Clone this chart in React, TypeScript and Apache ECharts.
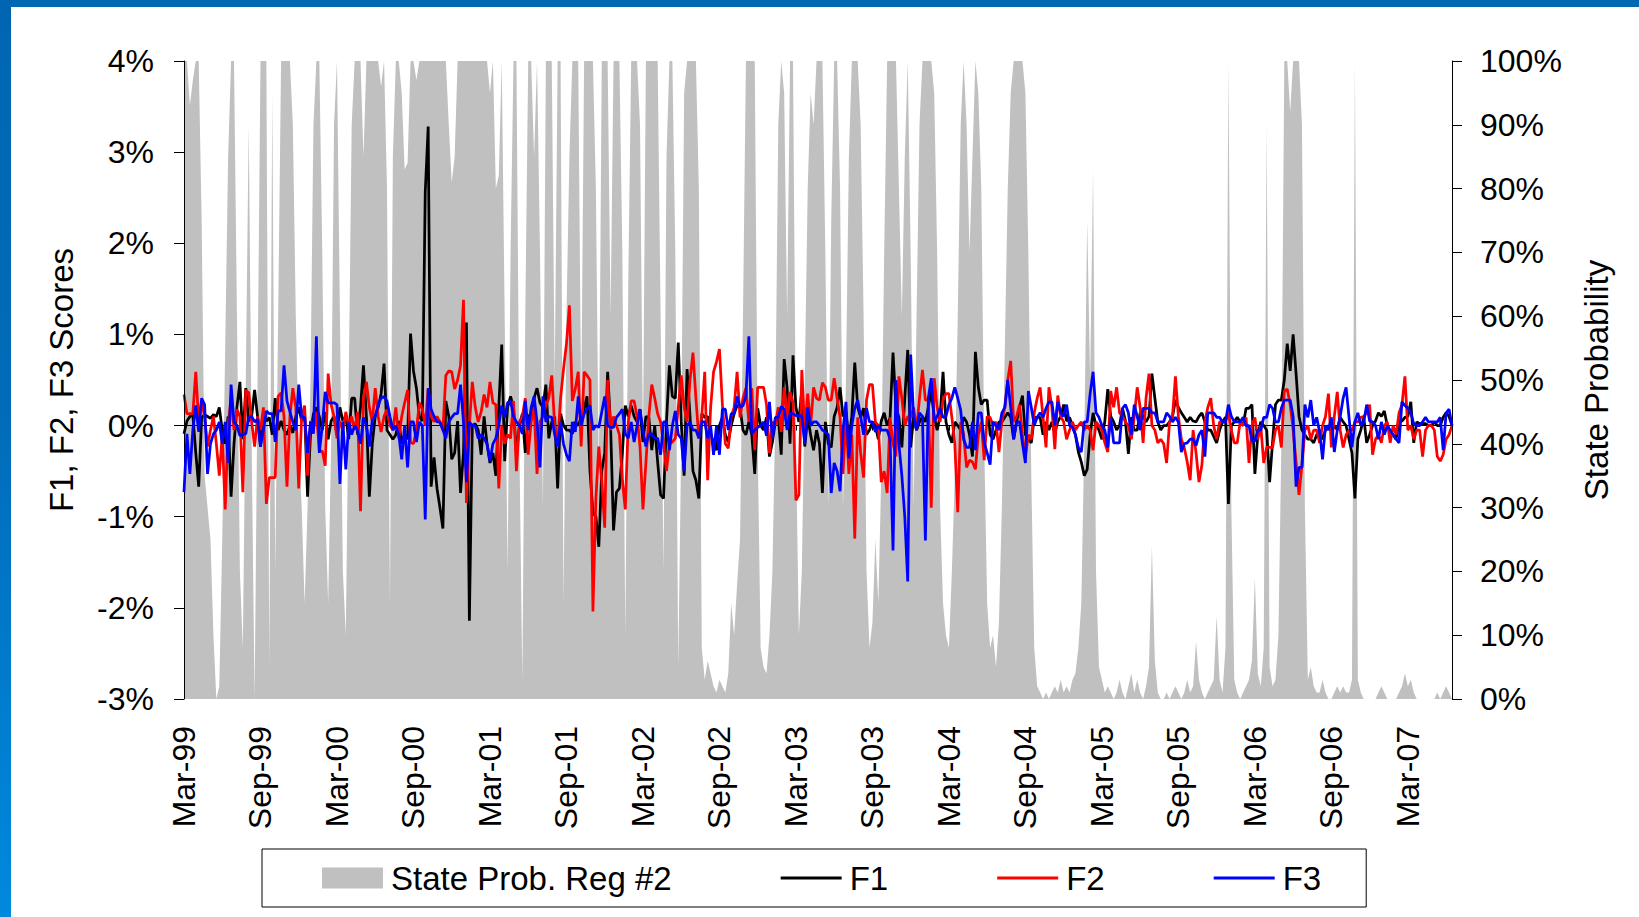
import React, { useEffect, useRef } from "react";
import * as echarts from "echarts";

const FONT = "'Liberation Sans', Arial, Helvetica, sans-serif";

// Weekly observations, first week 19 Mar 1999, 432 weeks
const MONTHS = ["Jan", "Feb", "Mar", "Apr", "May", "Jun", "Jul", "Aug", "Sep", "Oct", "Nov", "Dec"];
const START_UTC = Date.UTC(1999, 2, 19);
const N_WEEKS = 432;
const weekLabels: string[] = [];
for (let i = 0; i < N_WEEKS; i++) {
  const d = new Date(START_UTC + i * 7 * 86400000);
  weekLabels.push(MONTHS[d.getUTCMonth()] + "-" + String(d.getUTCFullYear() % 100).padStart(2, "0"));
}

// State probability of regime #2 (%), right axis
const STATE_PROB = [
  100,100,93,97,100,100,75,35,30,25,10,0,
  2,25,55,85,100,100,60,20,8,50,90,40,
  0,50,100,100,100,5,95,20,60,100,100,100,
  100,90,60,40,30,15,30,50,90,100,100,70,
  30,15,40,90,100,60,20,10,50,90,100,100,
  100,85,100,100,100,100,100,96,100,80,15,85,
  100,100,95,83,84,100,100,97,100,100,100,100,
  100,100,100,100,100,100,90,81,85,100,100,100,
  100,100,100,100,100,100,100,100,95,100,80,82,
  100,60,20,70,100,100,40,3,60,100,100,85,
  100,70,30,100,100,100,50,100,100,15,60,85,
  100,100,100,45,100,100,100,100,80,35,100,100,
  100,60,100,100,100,70,10,65,100,100,100,90,
  40,100,100,100,100,100,60,20,85,100,100,70,
  5,40,95,100,100,100,100,80,8,3,6,4,
  2,1,3,2,1,4,15,10,18,25,60,100,
  100,100,100,40,8,5,4,10,20,45,90,100,
  95,60,100,100,40,10,20,50,80,95,90,100,
  100,100,70,30,75,100,100,80,30,50,85,100,
  100,100,90,60,20,8,12,25,15,35,70,100,
  100,100,100,80,60,85,100,70,30,60,90,100,
  100,100,100,95,70,30,15,10,8,20,35,60,
  90,100,90,70,85,100,95,80,40,15,8,10,
  5,12,30,55,80,95,100,100,100,100,95,70,
  35,8,2,1,0,1,0,1,2,1,3,1,
  2,1,3,4,8,15,40,75,50,83,20,5,
  3,1,2,1,0,1,3,1,0,2,4,1,
  3,1,0,2,5,24,6,1,0,0,1,0,
  1,2,1,0,1,3,1,2,9,3,1,0,
  1,2,3,13,3,1,8,100,30,3,1,0,
  1,2,3,6,19,4,2,8,90,5,2,3,
  10,40,100,100,92,100,100,100,90,30,3,5,
  2,1,1,3,1,0,0,1,2,1,2,1,
  1,3,100,3,1,0,0,0,0,0,1,2,
  1,0,0,0,0,1,2,4,2,3,1,0,
  0,0,0,0,0,0,1,0,1,2,1,0,
];

// Factor scores (%), left axis
const F1 = [
  -0.09,0.05,0.1,0.12,-0.3,-0.67,0.09,0.12,0.1,0.08,0.12,0.1,
  0.2,-0.05,-0.2,0.1,-0.78,-0.2,0.2,0.48,-0.15,0.41,0.05,0.1,
  0.39,0.1,-0.23,0.15,0.05,0.09,-0.1,0.3,-0.05,0.05,-0.05,-0.1,
  0,-0.08,0.1,0.2,0.05,0.15,-0.78,-0.1,0.13,0.2,0.1,-0.05,
  0.15,-0.15,0.05,0.1,-0.1,0.2,0.05,0.1,-0.15,0.3,0.3,-0.1,
  0.2,0.66,0.1,-0.78,-0.2,0.1,0.2,0.35,0.68,-0.05,-0.1,-0.15,
  -0.1,0.05,-0.2,-0.1,-0.15,1.01,0.6,0.41,0.1,0.05,2.56,3.28,
  -0.67,-0.35,-0.69,-0.9,-1.13,0.27,0.1,-0.37,-0.3,0.05,-0.74,-0.3,
  1.13,-2.14,0,0.02,-0.05,-0.32,0.1,-0.2,-0.41,-0.3,-0.55,0.2,
  0.89,-0.39,0.2,0.32,0.2,-0.32,0,0.13,-0.3,0.1,0.13,0.3,
  0.41,0.25,0.2,0.45,-0.14,0.04,0.1,-0.69,0.13,0,-0.05,-0.05,
  -0.09,0.04,0,0.09,0.18,0.32,-0.5,-0.96,-1.0,-1.33,-0.5,-0.3,
  0.59,0,-1.15,-0.73,-0.69,-0.3,0.22,0.1,0.22,0.1,0.04,0.18,
  -0.18,0.1,0.09,-0.27,0,-0.4,-0.76,-0.8,0.04,0.66,0.32,0.3,
  0.91,0.04,-0.55,0.62,0.1,-0.5,-0.6,-0.8,0.13,0.09,0.1,-0.1,
  -0.18,-0.27,0,0.09,-0.1,-0.18,0,0.13,0.22,0.2,-0.05,-0.1,
  0.04,-0.1,-0.53,0.19,0,-0.05,0.09,-0.34,-0.18,0.04,0.1,-0.32,
  0.73,0.41,-0.2,0.77,0.2,0.04,0.4,-0.23,0.09,-0.1,-0.27,-0.05,
  -0.2,-0.74,0.04,-0.2,-0.24,0.1,0.2,0.42,0.1,0.14,-0.15,0.1,
  0.69,0.2,0.09,0.19,-0.1,-0.05,0.04,0,-0.15,0.05,0.14,0,
  0.09,0.8,0.2,0.09,-0.24,0.3,0.83,-0.24,0.1,-0.05,0.04,0.1,
  0.04,0.2,0.38,0.1,-0.05,0.1,0.59,0.04,-0.1,-0.19,0.04,0,
  -0.05,0.09,0.04,-0.1,-0.34,0.81,0.42,0.23,0.28,0.28,-0.1,-0.15,
  -0.05,0.04,0.04,0.09,0.14,0.09,-0.15,0.04,0.2,0.33,-0.1,-0.15,
  -0.19,0.09,0.09,0.09,-0.1,0.04,-0.05,0.04,-0.08,0.04,0.1,0.23,
  0.05,0.09,0,-0.1,-0.29,-0.4,-0.55,-0.48,-0.1,0.14,0,-0.05,
  -0.15,0.05,0.4,0.1,0.04,-0.05,0,0.19,0.05,-0.31,0.09,-0.05,
  -0.05,0.14,0.1,0.04,0.1,0.57,0.3,0.04,-0.05,0,0,0.04,
  0.1,0.28,0.2,0.14,0.09,0.04,0.09,0.05,0.04,0.1,0.14,0.04,
  -0.05,-0.05,-0.12,-0.19,-0.05,0.04,0.09,-0.86,0,0.04,0.09,0.04,
  0,0.19,0.19,0.23,-0.53,-0.1,0.04,0,-0.05,-0.62,-0.19,0.23,
  0.28,0.28,0.5,0.9,0.6,1.0,0.57,0.1,-0.05,-0.1,-0.15,-0.15,
  -0.19,-0.1,-0.05,-0.15,-0.05,0,-0.05,0,-0.05,0.09,0.04,0,
  -0.15,-0.3,-0.8,-0.15,-0.05,0.09,-0.19,-0.1,0,0.05,0.14,0.1,
  0.16,0,-0.08,-0.1,-0.15,0.04,0.05,0.09,0.1,0.26,-0.19,0.04,
  0.02,0.02,0.02,0,0,0.04,0,0,0.09,0.14,0.1,0,
];

const F2 = [
  0.34,0.13,0.13,0.13,0.59,0.04,0.27,0.1,-0.23,-0.05,0.1,-0.2,
  -0.55,-0.1,-0.92,0,0.3,-0.05,0.18,0.1,-0.73,0.39,0.36,0.04,
  -0.23,0.1,-0.05,0.2,-0.86,-0.57,-0.57,-0.57,0.32,0.36,0.1,-0.67,
  0.1,0.41,0.2,-0.69,0.1,0.22,-0.55,0.05,-0.05,0.15,-0.28,-0.28,
  -0.44,0.57,0.23,0.1,-0.14,0.05,-0.05,0.15,0,0.1,-0.05,0.15,
  -0.94,0.3,0.48,0.2,0.04,0.41,0.1,-0.07,0.1,0.18,0,-0.05,
  0.2,-0.14,0.1,0.25,0.39,-0.18,-0.2,-0.05,0.25,0.18,0,0.41,
  0.1,0.04,0.1,0.04,-0.05,0.55,0.6,0.59,0.4,0.5,0.66,1.38,
  -0.85,0,0.48,0.2,0.04,0.15,0.34,0.2,0.48,0.25,0.23,-0.69,
  0,-0.2,-0.1,-0.14,0.27,-0.5,0.04,0.1,0.3,-0.32,0.04,0.2,
  -0.53,0.04,0.1,0.22,0.3,0.55,0,-0.2,0.3,0.62,0.9,1.32,
  0.27,0.4,0.59,-0.23,0.59,0.55,0.5,-2.04,-0.8,-0.23,-0.6,-1.12,
  0.5,-0.05,0.1,0,-0.1,-0.6,-0.92,0.04,0.27,0.27,0.1,-0.23,
  -0.92,-0.41,0.1,0.45,0.3,0.13,0.04,-0.2,-0.5,-0.2,-0.18,-0.14,
  0.2,0.55,0.2,0.04,0.5,0.8,0.3,-0.14,0.1,0.59,-0.6,0.2,
  0.59,0.7,0.84,0.23,-0.2,-0.25,0.1,0.2,0.59,0.09,0.3,0.41,
  0.04,0.41,-0.27,0.42,0.42,0.42,0.23,-0.3,0.04,0,0.2,-0.07,
  0.42,0.09,0.37,0.25,-0.82,-0.76,0.61,-0.05,0.35,0,0.42,0.3,
  0.28,0.47,0.42,0.28,0.28,0.52,0.3,0.09,-0.53,0.09,-0.53,-0.1,
  -1.24,0.09,-0.3,-0.57,0.28,0.45,0.45,0.04,0,-0.62,-0.5,-0.74,
  0.09,-0.2,-0.34,0.54,0.3,0,0.1,0.09,0.2,-0.05,0.3,0.61,
  0.28,0.28,-0.9,0.52,0.2,0.04,0.28,0.35,0.35,0.09,-0.2,-0.95,
  0.04,-0.1,-0.46,-0.38,-0.4,-0.48,-0.1,0.04,-0.38,0.1,0.09,0,
  0.04,-0.29,0.04,0.2,0.5,0.71,0.04,0.1,0.23,-0.1,-0.34,-0.1,
  -0.15,0.14,0.3,0.42,0.09,-0.24,0.42,0.2,-0.26,0.33,0.1,0.04,
  -0.15,-0.05,0.04,-0.05,0,0.04,-0.05,0,-0.05,-0.27,0.04,0,
  -0.05,-0.19,-0.29,0.38,0.2,0.42,0.14,0.1,0.04,0,-0.15,0.09,
  0.42,0.2,-0.19,0.3,0.57,0,-0.05,-0.19,-0.15,-0.2,-0.41,0.04,
  0.1,0.54,0.1,-0.15,-0.24,-0.4,-0.6,-0.05,-0.3,-0.62,-0.43,0.04,
  0.2,0.3,0,-0.15,0.04,0.04,0.04,0.14,-0.05,-0.19,-0.19,0.04,
  0,0.09,-0.41,0,0.09,-0.15,0,-0.41,-0.24,-0.24,-0.24,-0.05,
  0,-0.24,0.38,0.4,0.23,-0.05,-0.4,-0.76,-0.43,-0.05,0,-0.15,
  -0.05,-0.05,-0.19,0,0.1,0.35,-0.24,0.1,0.37,-0.05,-0.24,-0.1,
  -0.05,-0.05,0.04,0.04,0.09,0.1,0.14,0.23,-0.32,-0.15,-0.1,-0.19,
  0,0.04,-0.19,0,-0.1,0.14,0.23,0.54,-0.05,0,-0.15,-0.05,
  -0.05,-0.34,-0.05,0,0,-0.05,-0.34,-0.39,-0.32,-0.15,-0.1,0,
];

const F3 = [
  -0.73,-0.09,-0.53,-0.05,0.22,-0.07,0.3,0.23,-0.53,-0.2,-0.09,-0.05,
  0.04,-0.2,0.04,-0.41,0.45,0.04,0,-0.11,-0.1,-0.09,0.09,0.1,
  0.04,0.07,-0.23,-0.05,0.16,0.13,0.13,-0.18,0.16,0.16,0.66,0.27,
  0.15,0.04,-0.05,0.45,0.09,0.09,-0.3,0.04,-0.09,0.98,-0.3,0,
  0.37,0.25,0.25,0.25,0.23,-0.64,0.04,-0.48,0.04,-0.1,0,-0.05,
  -0.2,0.09,0,-0.23,0.06,0.1,0.23,0.3,0.32,0.27,0.1,-0.05,
  0,-0.1,-0.37,0,-0.46,0.04,0.04,-0.18,0.04,0,-1.03,0.41,
  0.18,0.1,0.04,0.04,-0.05,-0.14,0.04,0.09,0.13,0.13,0.45,0.04,
  -0.62,0.04,0,0,-0.14,-0.1,-0.14,-0.2,-0.39,-0.2,-0.14,0,
  0.22,0.09,0.25,0.27,0.1,0.04,0,-0.09,0.27,-0.05,0.2,0.32,
  0.04,-0.46,0.32,0.04,0.1,0.09,-0.1,-0.23,0.04,-0.2,-0.32,-0.39,
  0.04,-0.07,0.32,0,0.13,0.18,0.22,-0.05,0,-0.02,0.15,0.32,
  0,-0.02,-0.02,0.09,0.13,0.18,-0.09,-0.14,0.04,-0.18,0,0.18,
  -0.05,-0.23,-0.09,-0.09,-0.14,-0.14,-0.32,0.04,0.04,-0.27,0,0.16,
  -0.1,-0.14,-0.5,0,0.04,-0.05,-0.05,-0.14,0.04,0.04,-0.14,0,
  -0.32,0,-0.32,0.18,0.18,-0.05,0.13,0.13,0.32,0.2,0.22,0.32,
  0.98,-0.09,-0.05,-0.02,0,0.04,-0.11,0.26,-0.14,0.09,0.09,0.21,
  0.18,-0.05,0.13,0.13,0.11,0.11,0.11,-0.2,0.2,0,0.04,0.04,
  0,-0.05,-0.07,-0.1,-0.74,-0.41,-0.5,-0.72,-0.05,0.26,-0.36,0,
  0.19,0.28,0.1,-0.1,0.19,0.04,0.04,-0.07,0,-0.05,-0.05,-0.05,
  -0.15,-1.37,0.5,-0.2,-0.55,-1.0,-1.71,0.78,0.1,-0.05,0.14,0.1,
  -1.26,0.3,0.52,0.04,0.1,0.19,0.09,0.1,0.23,0.3,0.42,0.3,
  0.17,-0.15,-0.24,-0.24,0.04,-0.27,0.14,0.14,-0.19,-0.3,-0.43,0.04,
  0,-0.05,0.14,0.2,0.5,0.2,-0.15,0.04,0.04,-0.2,-0.41,0.38,
  0.2,0,0.09,0.14,0.09,0.19,0.26,0.26,0,0.26,0.14,0.1,
  0.23,0,-0.02,-0.1,-0.24,-0.29,0.04,0.04,0.35,0.59,0.14,0.09,
  0,-0.05,-0.24,0.09,-0.19,-0.19,-0.19,0.19,0.23,0.14,-0.1,0.23,
  0.1,-0.05,0.19,0.19,0.19,0.14,0.14,0.04,0.04,0.04,0.14,0.1,
  0.04,0.09,0.04,-0.29,-0.2,-0.19,-0.15,-0.15,-0.22,-0.1,-0.05,-0.34,
  0.14,0.14,0.14,0.09,0.09,0.04,0.04,0.23,0.1,0.04,0.04,0.04,
  0.09,0,0,-0.17,-0.17,-0.05,-0.05,0.09,0.09,0.23,0.19,0.04,
  0.04,0.19,0.28,0.28,0.28,0.1,-0.67,-0.46,-0.46,0.23,0.09,0.28,
  0,0.09,-0.07,-0.37,0,-0.05,0.09,-0.29,-0.05,0.1,0.3,0.42,
  0.09,-0.24,0.04,0.14,0,0.04,0.23,0.05,0.04,0,-0.15,0.04,
  -0.1,0,-0.05,-0.1,-0.15,-0.19,0.26,0.22,0.19,0.14,0.02,0,
  0,0.04,0.09,0.04,0.04,0.04,0.04,0.09,-0.27,0.14,0.18,0,
];

const LEFT_TICKS = { min: -3, max: 4, interval: 1 };
const RIGHT_TICKS = { min: 0, max: 100, interval: 10 };

const LINE_ICON = "path://M0,0L61,0L61,2.8L0,2.8Z";

export default function App() {
  const ref = useRef<HTMLDivElement>(null);

  useEffect(() => {
    if (!ref.current) return;
    const chart = echarts.init(ref.current, null, { renderer: "svg" });
    const black = "#000000";
    chart.setOption({
      animation: false,
      backgroundColor: "#ffffff",
      textStyle: { fontFamily: FONT, color: black },
      grid: { left: 184, right: 187, top: 61, bottom: 218, containLabel: false },
      legend: {
        left: 262,
        top: 849,
        orient: "horizontal",
        padding: [10, 45, 10, 60],
        itemGap: 109,
        itemWidth: 61,
        itemHeight: 21,
        symbolKeepAspect: true,
        borderColor: black,
        borderWidth: 1,
        borderRadius: 0,
        backgroundColor: "#ffffff",
        selectedMode: false,
        textStyle: { fontFamily: FONT, fontSize: 33, color: black, lineHeight: 38, padding: [0, 0, 0, 3] },
        data: [
          { name: "State Prob. Reg #2", icon: "rect" },
          { name: "F1", icon: LINE_ICON },
          { name: "F2", icon: LINE_ICON },
          { name: "F3", icon: LINE_ICON },
        ],
      },
      xAxis: [
        {
          type: "category",
          data: weekLabels,
          boundaryGap: false,
          position: "bottom",
          axisLine: { show: false, onZero: false },
          axisTick: { show: false },
          splitLine: { show: false },
          axisLabel: {
            interval: 25,
            rotate: 90,
            fontSize: 32,
            fontFamily: FONT,
            color: black,
            margin: 27,
          },
        },
        {
          type: "category",
          data: weekLabels,
          boundaryGap: false,
          position: "bottom",
          z: 2,
          axisLine: { show: true, onZero: true, onZeroAxisIndex: 0, lineStyle: { color: black, width: 1 } },
          axisTick: { show: true, interval: 25, length: 5, lineStyle: { color: black } },
          axisLabel: { show: false },
          splitLine: { show: false },
        },
      ],
      yAxis: [
        {
          type: "value",
          position: "left",
          ...LEFT_TICKS,
          z: 5,
          name: "F1, F2, F3 Scores",
          nameLocation: "middle",
          nameRotate: 90,
          nameGap: 106,
          nameTextStyle: { fontFamily: FONT, fontSize: 33, color: black },
          axisLine: { show: true, lineStyle: { color: black, width: 1 } },
          axisTick: { show: true, length: 10, lineStyle: { color: black } },
          splitLine: { show: false },
          axisLabel: { formatter: "{value}%", fontSize: 32, fontFamily: FONT, color: black, margin: 30 },
        },
        {
          type: "value",
          position: "right",
          ...RIGHT_TICKS,
          z: 5,
          name: "State Probability",
          nameLocation: "middle",
          nameRotate: 90,
          nameGap: 128,
          nameTextStyle: { fontFamily: FONT, fontSize: 33, color: black },
          axisLine: { show: true, lineStyle: { color: black, width: 1 } },
          axisTick: { show: true, length: 10, lineStyle: { color: black } },
          splitLine: { show: false },
          axisLabel: { formatter: "{value}%", fontSize: 32, fontFamily: FONT, color: black, margin: 28 },
        },
      ],
      series: [
        {
          name: "State Prob. Reg #2",
          type: "line",
          data: STATE_PROB,
          xAxisIndex: 0,
          yAxisIndex: 1,
          symbol: "none",
          z: 1,
          silent: true,
          itemStyle: { color: "#C0C0C0" },
          lineStyle: { width: 0, color: "#C0C0C0" },
          areaStyle: { color: "#C0C0C0", opacity: 1 },
        },
        {
          name: "F1",
          type: "line",
          data: F1,
          xAxisIndex: 0,
          yAxisIndex: 0,
          symbol: "none",
          z: 3,
          itemStyle: { color: "#000000" },
          lineStyle: { color: "#000000", width: 2.75 },
        },
        {
          name: "F2",
          type: "line",
          data: F2,
          xAxisIndex: 0,
          yAxisIndex: 0,
          symbol: "none",
          z: 4,
          itemStyle: { color: "#FF0000" },
          lineStyle: { color: "#FF0000", width: 2.75 },
        },
        {
          name: "F3",
          type: "line",
          data: F3,
          xAxisIndex: 0,
          yAxisIndex: 0,
          symbol: "none",
          z: 5,
          itemStyle: { color: "#0000FF" },
          lineStyle: { color: "#0000FF", width: 2.75 },
        },
      ],
    });
    return () => chart.dispose();
  }, []);

  return (
    <div style={{ position: "absolute", left: 0, top: 0, width: 1639, height: 917, background: "#ffffff", overflow: "hidden" }}>
      <div ref={ref} style={{ position: "absolute", left: 0, top: 0, width: 1639, height: 917 }} />
      <div style={{ position: "absolute", left: 0, top: 0, width: 1639, height: 7, background: "#0067b2" }} />
      <div
        style={{
          position: "absolute",
          left: 0,
          top: 0,
          width: 11,
          height: 917,
          background: "linear-gradient(to bottom, #0066b1 0%, #006cb9 45%, #0089de 100%)",
        }}
      />
    </div>
  );
}
